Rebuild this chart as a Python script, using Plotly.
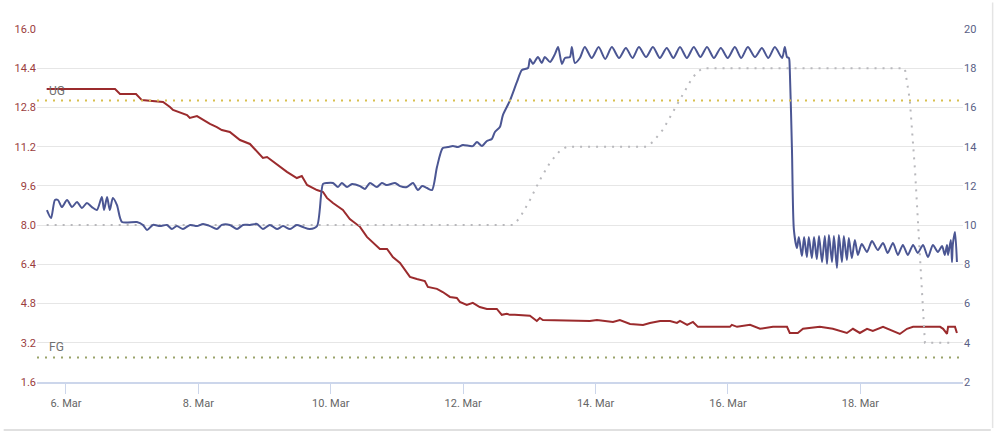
import pandas as pd
import plotly.graph_objects as go

BASE = pd.Timestamp("2023-03-05 17:00")

# Gravity (left axis, °P)
gravity_hours = [0, 24.8, 26.6, 32.4, 34.5, 37.4, 42.2, 44.7, 45.8, 50.9, 51.9, 54.5, 56.7, 59.2, 61.7,
                 63.5, 66.4, 70.1, 73.7, 76.2, 78.4, 79.9, 83.5, 87.1, 90.7, 92.5, 94.4, 98.0, 100.2,
                 101.6, 103.8, 107.4, 109.9, 113.6, 116.1, 120.8, 123.4, 125.5, 128.1, 131.7, 134.2,
                 137.1, 138.2, 141.5, 143.6, 146.2, 148.7, 149.8, 152.3, 154.5, 157.0, 159.6, 163.2,
                 165.0, 166.8, 167.9, 169.7, 175.2, 177.7, 178.8, 179.9, 196.9, 199.5, 205.3, 207.8,
                 211.5, 216.2, 218.7, 222.4, 226.0, 228.5, 229.6, 232.2, 234.3, 236.1, 247.7, 248.4,
                 250.3, 255.0, 258.6, 263.3, 268.4, 269.4, 272.3, 274.2, 280.3, 285.0, 287.6, 290.1,
                 292.3, 294.8, 297.4, 299.5, 303.2, 306.8, 309.3, 311.9, 314.1, 323.9, 325.0, 326.4,
                 326.8, 329.3, 330.0]
gravity_values = [13.55, 13.55, 13.35, 13.35, 13.10, 13.06, 13.02, 12.82, 12.70, 12.49, 12.37, 12.45,
                  12.29, 12.13, 12.00, 11.88, 11.80, 11.47, 11.31, 11.02, 10.74, 10.78, 10.49, 10.17,
                  9.92, 10.00, 9.64, 9.43, 9.35, 9.11, 8.90, 8.62, 8.25, 7.93, 7.52, 7.03, 7.03, 6.70,
                  6.46, 5.89, 5.80, 5.72, 5.48, 5.40, 5.27, 5.07, 5.03, 4.87, 4.74, 4.83, 4.66, 4.58,
                  4.58, 4.34, 4.38, 4.34, 4.34, 4.30, 4.09, 4.21, 4.13, 4.09, 4.13, 4.05, 4.13, 3.97,
                  3.93, 4.01, 4.09, 4.09, 4.01, 4.09, 3.93, 4.05, 3.85, 3.85, 3.93, 3.85, 3.93, 3.77,
                  3.85, 3.85, 3.60, 3.60, 3.77, 3.85, 3.77, 3.68, 3.60, 3.77, 3.60, 3.77, 3.68, 3.85,
                  3.68, 3.56, 3.77, 3.85, 3.85, 3.77, 3.56, 3.85, 3.85, 3.60]

# Temperature (right axis, °C)
temp_hours = [0.1, 1.6, 3.0, 4.1, 5.5, 7.4, 9.2, 11.0, 12.8, 14.6, 16.4, 18.2, 20.0, 20.8, 21.9, 22.9,
              24.0, 25.5, 27.3, 32.7, 34.9, 36.4, 38.5, 41.1, 43.6, 45.4, 47.2, 49.4, 52.0, 54.5,
              56.7, 59.2, 61.7, 63.5, 66.4, 69.0, 71.2, 73.7, 76.2, 78.4, 80.9, 83.5, 85.7, 88.2,
              90.7, 92.9, 95.4, 98.0, 100.2, 101.6, 103.8, 105.6, 107.0, 108.9, 110.7, 113.6, 115.4,
              117.2, 119.7, 121.5, 123.4, 126.3, 128.1, 130.6, 132.8, 134.6, 136.1, 137.9, 139.7,
              141.5, 143.6, 145.5, 147.3, 149.1, 150.9, 154.5, 156.0, 157.8, 159.6, 161.4, 162.5,
              164.3, 165.4, 167.9, 170.5, 172.3, 174.5, 175.2, 176.3, 178.1, 179.5, 180.6, 182.5,
              184.3, 185.4, 186.8, 187.9, 189.7, 190.4, 191.5, 193.3, 195.1, 197.6, 200.1, 202.5,
              204.9, 207.5, 210.0, 212.4, 214.7, 217.3, 219.8, 222.3, 224.8, 227.2, 229.6, 232.1,
              234.6, 237.0, 239.4, 241.9, 244.4, 246.9, 249.5, 251.8, 254.2, 256.8, 259.3, 261.6,
              264.0, 266.6, 267.6, 268.4, 269.1, 269.4, 270.2, 270.9, 272.0, 272.7, 273.8, 274.6,
              275.6, 276.3, 277.4, 278.2, 279.2, 280.0, 281.1, 282.1, 282.9, 283.6, 284.7, 285.4,
              286.5, 287.2, 288.3, 289.0, 290.1, 290.8, 291.9, 293.0, 294.1, 295.5, 297.4, 299.2,
              301.3, 303.2, 304.9, 306.8, 308.6, 310.4, 312.2, 314.1, 315.8, 317.7, 319.5, 321.3,
              323.1, 324.6, 325.6, 326.4, 326.8, 327.8, 328.2, 328.5, 329.3, 330.0]
temp_values = [10.77, 10.36, 11.28, 11.28, 10.92, 11.28, 10.92, 11.18, 10.87, 11.13, 10.92, 10.77,
               11.43, 10.77, 11.43, 10.77, 11.38, 11.02, 10.16, 10.16, 10.01, 9.75, 10.01, 9.95,
               10.01, 9.80, 9.95, 9.80, 10.01, 9.95, 10.06, 9.95, 9.80, 10.01, 10.01, 9.80, 10.01,
               10.01, 10.06, 9.80, 10.01, 9.80, 9.95, 9.80, 10.01, 9.90, 9.80, 9.95, 12.10, 12.15,
               12.15, 11.94, 12.15, 11.94, 12.10, 11.99, 11.84, 12.15, 11.94, 12.15, 12.04, 12.15,
               11.99, 11.94, 12.15, 11.79, 11.99, 11.89, 11.79, 12.96, 13.93, 13.98, 14.03, 13.98,
               14.08, 14.03, 14.24, 14.03, 14.29, 14.39, 14.75, 15.00, 15.61, 16.33, 17.30, 17.91,
               18.01, 18.47, 18.22, 18.57, 18.27, 18.57, 18.32, 18.73, 19.08, 18.22, 18.52, 18.57,
               19.08, 18.27, 18.52, 19.08, 18.52, 19.08, 18.47, 19.08, 18.52, 19.03, 18.52, 19.08,
               18.57, 19.08, 18.52, 19.03, 18.52, 19.08, 18.52, 19.08, 18.57, 19.08, 18.52, 19.03,
               18.52, 19.08, 18.52, 19.08, 18.57, 19.03, 18.52, 19.08, 18.52, 19.08, 18.57, 18.52,
               17.96, 13.80, 9.75, 8.83, 9.39, 8.42, 9.39, 8.37, 9.39, 8.32, 9.39, 8.27, 9.44, 8.12,
               9.44, 8.02, 9.50, 8.12, 9.44, 7.81, 9.50, 8.12, 9.44, 8.22, 9.34, 8.32, 9.24, 8.48,
               9.04, 8.63, 9.19, 8.73, 9.09, 8.58, 9.09, 8.48, 8.99, 8.48, 8.99, 8.58, 8.99, 8.37,
               8.99, 8.63, 8.93, 8.48, 8.99, 8.48, 9.24, 8.12, 8.99, 9.65, 8.12, 8.99, 8.73, 8.12]

# Fermentation profile target (right axis, °C)
profile_hours = [0, 169.0, 171.5, 175.2, 178.8, 182.5, 186.1, 188.6, 217.6, 219.8, 223.4, 227.0,
                 230.7, 233.2, 235.7, 237.9, 311.1, 312.9, 314.8, 316.2, 317.3, 318.4, 329.3]
profile_values = [10, 10, 10.36, 11.28, 12.3, 13.2, 13.8, 14, 14, 14.25, 14.86, 15.78, 16.65, 17.3,
                  17.8, 18, 18, 16.4, 12.8, 9.2, 6.2, 4.0, 4.0]

og_value = 13.08
fg_value = 2.6
og_label = "UG"
fg_label = "FG"

x_start = "2023-03-05 13:30"
x_end = "2023-03-19 13:12"
tick_dates = ["2023-03-06", "2023-03-08", "2023-03-10", "2023-03-12", "2023-03-14",
              "2023-03-16", "2023-03-18"]


def to_time(hours):
    return [BASE + pd.Timedelta(hours=h) for h in hours]


RED = "#9b2b2d"
BLUE = "#4b5693"
FONT = "Roboto"

fig = go.Figure()
fig.add_trace(go.Scatter(x=to_time(profile_hours), y=profile_values, yaxis="y2", mode="lines",
                         line=dict(color="#b8b8bc", width=2, dash="2px,6px"), showlegend=False))
fig.add_trace(go.Scatter(x=to_time(gravity_hours), y=gravity_values, mode="lines",
                         line=dict(color=RED, width=2), showlegend=False))
fig.add_trace(go.Scatter(x=to_time(temp_hours), y=temp_values, yaxis="y2", mode="lines",
                         line=dict(color=BLUE, width=2, shape="spline", smoothing=0.7),
                         showlegend=False))

# OG / FG plot lines
for val, col in [(og_value, "#d8bf4e"), (fg_value, "#9aa36a")]:
    fig.add_shape(type="line", xref="paper", x0=0, x1=1, yref="y", y0=val, y1=val,
                  line=dict(color=col, width=2, dash="2px,6px"), layer="above")
for val, txt in [(og_value, og_label), (fg_value, fg_label)]:
    fig.add_annotation(xref="paper", x=0.0105, yref="y", y=val, yshift=1, text=txt,
                       showarrow=False, xanchor="left", yanchor="bottom",
                       font=dict(family=FONT, size=12, color="#707070"))

# card shadow edges
fig.add_shape(type="line", xref="paper", yref="paper", x0=-0.036, x1=1.03, y0=-0.136, y1=-0.136,
              line=dict(color="#d6d6d6", width=1.5))
fig.add_shape(type="line", xref="paper", yref="paper", x0=1.032, x1=1.032, y0=-0.13, y1=1.075,
              line=dict(color="#e4e4e4", width=1.5))

fig.update_layout(
    width=996, height=434,
    margin=dict(l=37, r=33, t=29, b=52),
    paper_bgcolor="white", plot_bgcolor="white",
    font=dict(family=FONT, size=11),
    xaxis=dict(type="date", range=[x_start, x_end], tickvals=tick_dates, tickformat="%-d. %b",
               showgrid=False, showline=True, linecolor="#ccd6eb", linewidth=1.5,
               ticks="outside", ticklen=10, tickcolor="#ccd6eb", tickwidth=1,
               tickfont=dict(color="#666666", size=11), zeroline=False),
    yaxis=dict(range=[1.6, 16.0], tick0=1.6, dtick=1.6, tickformat=".1f", showgrid=True,
               gridcolor="#e6e6e6", gridwidth=1, zeroline=False, ticks="",
               tickfont=dict(color="#9b3d3d", size=11), showline=False),
    yaxis2=dict(range=[2, 20], dtick=2, overlaying="y", side="right", showgrid=False,
                zeroline=False, tickfont=dict(color="#5a5f86", size=11), showline=False,
                ticks=""),
)

fig.write_html("out.html")
